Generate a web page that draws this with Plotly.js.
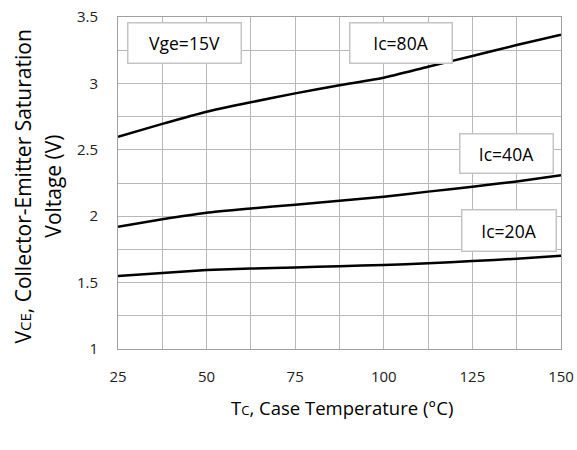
<!DOCTYPE html>
<html>
<head>
<meta charset="utf-8">
<script src="https://cdn.plot.ly/plotly-3.0.1.min.js"></script>
<style>html,body{margin:0;padding:0;background:#fff;}#chart{width:577px;height:450px;}</style>
</head>
<body>
<div id="chart"></div>
<script>
const temps = [25, 37.5, 50, 62.5, 75, 87.5, 100, 112.5, 125, 137.5, 150];
const vce80 = [2.597, 2.695, 2.787, 2.858, 2.925, 2.986, 3.043, 3.126, 3.206, 3.289, 3.366];
const vce40 = [1.921, 1.977, 2.026, 2.058, 2.087, 2.117, 2.147, 2.185, 2.222, 2.262, 2.308];
const vce20 = [1.55, 1.572, 1.595, 1.606, 1.614, 1.623, 1.633, 1.645, 1.662, 1.68, 1.703];
const seriesNames = ['Ic=80A', 'Ic=40A', 'Ic=20A'];
const xTicks = [25, 50, 75, 100, 125, 150];
const yTicks = [1, 1.5, 2, 2.5, 3, 3.5];
const yTickText = ['1', '1.5', '2', '2.5', '3', '3.5'];

const font = "'Open Sans', 'Noto Sans', sans-serif";
const lineStyle = {color: '#000', width: 2.5, shape: 'spline', smoothing: 0.5};
const traces = [vce80, vce40, vce20].map((v, i) => ({
  x: temps, y: v, type: 'scatter', mode: 'lines', name: seriesNames[i], line: lineStyle, hoverinfo: 'skip'
}));

const boxStyle = {showarrow: false, bordercolor: '#c4c4c4', borderwidth: 1.5, bgcolor: '#fff', borderpad: 4,
  font: {family: font, size: 17.5, color: '#000'}, xref: 'x', yref: 'y', xanchor: 'center', yanchor: 'middle'};
const titleStyle = {xref: 'paper', yref: 'paper', xanchor: 'center', yanchor: 'middle', showarrow: false,
  font: {family: font, size: 21, color: '#000'}};
const annotations = [
  Object.assign({}, boxStyle, {text: 'Vge=15V', x: 43.9, y: 3.304, width: 104, height: 31}),
  Object.assign({}, boxStyle, {text: seriesNames[0], x: 104.9, y: 3.304, width: 93, height: 31}),
  Object.assign({}, boxStyle, {text: seriesNames[1], x: 134.5, y: 2.472, width: 84, height: 30}),
  Object.assign({}, boxStyle, {text: seriesNames[2], x: 135.3, y: 1.896, width: 85, height: 32}),
  Object.assign({}, titleStyle, {text: 'V<span style="font-size:15px">CE</span>, Collector-Emitter Saturation',
   x: -0.214, y: 0.49, textangle: -90}),
  Object.assign({}, titleStyle, {text: 'Voltage (V)', x: -0.146, y: 0.49, textangle: -90}),
  Object.assign({}, titleStyle, {text: 'T<span style="font-size:13px">C</span>, Case Temperature (°C)',
   x: 0.505, y: -0.175, font: {family: font, size: 18.5, color: '#000'}})
];

const layout = {
  width: 577, height: 450,
  margin: {l: 118, r: 16, t: 17, b: 101},
  paper_bgcolor: '#fff', plot_bgcolor: '#fff',
  showlegend: false,
  font: {family: font, color: '#000'},
  xaxis: {
    range: [25, 150], tickvals: xTicks, ticktext: xTicks.map(String),
    showgrid: true, gridcolor: '#b8b8b8', gridwidth: 1,
    minor: {dtick: 12.5, tick0: 25, showgrid: true, gridcolor: '#b8b8b8', gridwidth: 1, ticks: ''},
    zeroline: false, showline: true, linecolor: '#a0a0a0', linewidth: 1, mirror: true,
    ticks: 'outside', ticklen: 14, tickcolor: 'rgba(0,0,0,0)',
    tickfont: {family: font, size: 15, color: '#222'}
  },
  yaxis: {
    range: [1, 3.5], tickvals: yTicks, ticktext: yTickText,
    showgrid: true, gridcolor: '#b8b8b8', gridwidth: 1,
    minor: {dtick: 0.25, tick0: 1, showgrid: true, gridcolor: '#b8b8b8', gridwidth: 1, ticks: ''},
    zeroline: false, showline: true, linecolor: '#a0a0a0', linewidth: 1, mirror: true,
    ticks: 'outside', ticklen: 16, tickcolor: 'rgba(0,0,0,0)',
    tickfont: {family: font, size: 15, color: '#222'}
  },
  annotations: annotations
};

Plotly.newPlot('chart', traces, layout, {displayModeBar: false, staticPlot: true});
</script>
</body>
</html>
